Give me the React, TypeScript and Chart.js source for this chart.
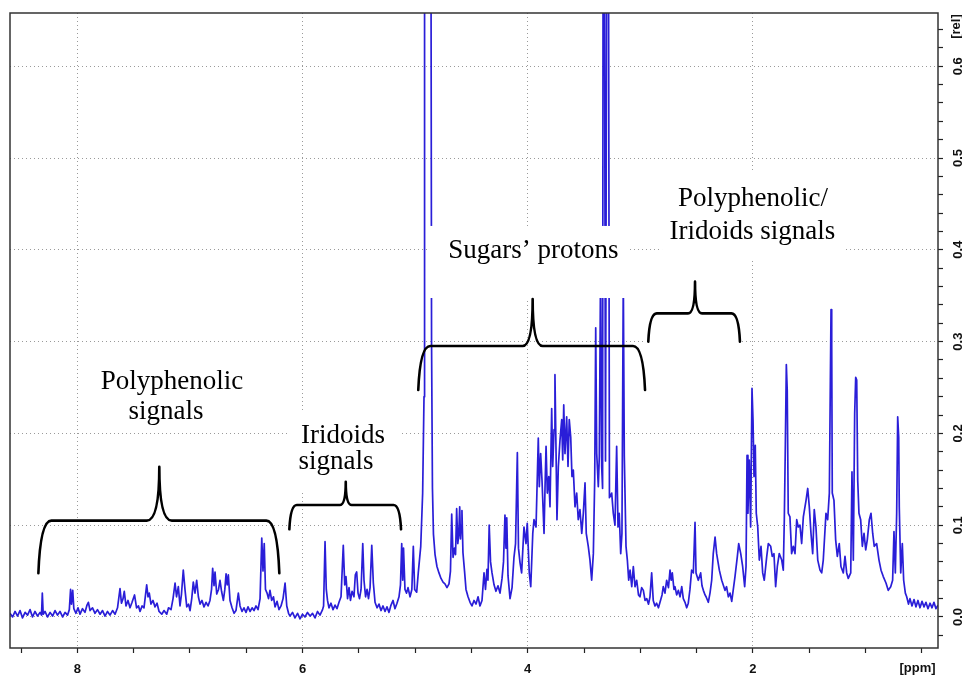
import React, { useEffect, useRef } from 'react';
import { Chart, registerables } from 'chart.js';

Chart.register(...registerables);

// 1H NMR spectrum, [chemical shift (ppm), relative intensity]
const polyphenolicRegion: [number, number][] = [
  [8.598, 0.004], [8.575, 0.000], [8.553, 0.006], [8.531, 0.001], [8.509, 0.007], [8.487, -0.001], [8.464, 0.005], [8.442, 0.002],
  [8.420, 0.008], [8.398, 0.000], [8.376, 0.006], [8.353, 0.001], [8.331, 0.005], [8.318, 0.002], [8.311, 0.026], [8.303, 0.003],
  [8.287, 0.006], [8.265, 0.000], [8.242, 0.005], [8.220, 0.001], [8.198, 0.007], [8.176, 0.002], [8.154, 0.006], [8.131, 0.000],
  [8.109, 0.005], [8.087, 0.002], [8.071, 0.008], [8.060, 0.030], [8.052, 0.014], [8.041, 0.029], [8.031, 0.009], [8.012, 0.004],
  [7.994, 0.010], [7.976, 0.003], [7.954, 0.009], [7.932, 0.005], [7.914, 0.013], [7.902, 0.016], [7.887, 0.007], [7.865, 0.010],
  [7.843, 0.004], [7.821, 0.008], [7.798, 0.003], [7.776, 0.007], [7.754, 0.001], [7.732, 0.006], [7.710, 0.002], [7.687, 0.007],
  [7.665, 0.003], [7.643, 0.010], [7.621, 0.031], [7.608, 0.015], [7.594, 0.020], [7.583, 0.028], [7.568, 0.012], [7.550, 0.018],
  [7.532, 0.010], [7.514, 0.016], [7.492, 0.024], [7.474, 0.010], [7.457, 0.012], [7.443, 0.006], [7.425, 0.012], [7.408, 0.010],
  [7.384, 0.035], [7.372, 0.022], [7.361, 0.026], [7.346, 0.014], [7.328, 0.018], [7.310, 0.011], [7.292, 0.015], [7.274, 0.006],
  [7.250, 0.003], [7.230, 0.007], [7.206, 0.003], [7.190, 0.010], [7.168, 0.008], [7.150, 0.020], [7.132, 0.037], [7.119, 0.022],
  [7.103, 0.033], [7.088, 0.012], [7.075, 0.025], [7.059, 0.051], [7.044, 0.030], [7.028, 0.011], [7.012, 0.014], [6.999, 0.007],
  [6.984, 0.020], [6.970, 0.038], [6.955, 0.026], [6.940, 0.040], [6.925, 0.022], [6.910, 0.014], [6.893, 0.018], [6.875, 0.011],
  [6.857, 0.016], [6.839, 0.012], [6.822, 0.018], [6.808, 0.030], [6.798, 0.053], [6.786, 0.034], [6.777, 0.049], [6.762, 0.025],
  [6.746, 0.030], [6.733, 0.040], [6.719, 0.028], [6.703, 0.018], [6.690, 0.030], [6.679, 0.047], [6.669, 0.035], [6.659, 0.046],
  [6.644, 0.018], [6.626, 0.010], [6.608, 0.004], [6.591, 0.007], [6.570, 0.026], [6.555, 0.012], [6.537, 0.006], [6.520, 0.010],
  [6.502, 0.005], [6.484, 0.011], [6.466, 0.006], [6.448, 0.010], [6.431, 0.007], [6.413, 0.012], [6.395, 0.008], [6.377, 0.020],
  [6.362, 0.086], [6.351, 0.050], [6.340, 0.080], [6.329, 0.030], [6.315, 0.026], [6.302, 0.020], [6.289, 0.029], [6.274, 0.018],
  [6.258, 0.022], [6.244, 0.011], [6.226, 0.017], [6.209, 0.008], [6.191, 0.012], [6.173, 0.020], [6.155, 0.037], [6.140, 0.012],
  [6.124, 0.004],
];

const iridoidRegion: [number, number][] = [
  [6.111, 0.001], [6.089, 0.005], [6.067, -0.001], [6.044, 0.004], [6.022, -0.002], [6.000, 0.003], [5.978, 0.000], [5.956, 0.005],
  [5.933, 0.001], [5.911, 0.004], [5.889, -0.001], [5.867, 0.006], [5.845, 0.002], [5.822, 0.008], [5.813, 0.012], [5.800, 0.082],
  [5.789, 0.030], [5.778, 0.018], [5.765, 0.010], [5.747, 0.015], [5.729, 0.008], [5.711, 0.013], [5.694, 0.009], [5.676, 0.016],
  [5.658, 0.022], [5.638, 0.078], [5.625, 0.035], [5.614, 0.044], [5.600, 0.020], [5.587, 0.032], [5.574, 0.018], [5.560, 0.028],
  [5.543, 0.022], [5.531, 0.046], [5.519, 0.049], [5.507, 0.026], [5.494, 0.020], [5.480, 0.030], [5.465, 0.080], [5.454, 0.040],
  [5.440, 0.022], [5.427, 0.030], [5.414, 0.020], [5.400, 0.032], [5.385, 0.078], [5.371, 0.037], [5.356, 0.016], [5.338, 0.010],
  [5.321, 0.014], [5.303, 0.007], [5.285, 0.012], [5.267, 0.006], [5.250, 0.011], [5.232, 0.005], [5.214, 0.013], [5.196, 0.018],
  [5.179, 0.009], [5.161, 0.015], [5.143, 0.022], [5.130, 0.035], [5.119, 0.080], [5.110, 0.040], [5.103, 0.075], [5.090, 0.030],
  [5.076, 0.026], [5.063, 0.032], [5.045, 0.022], [5.029, 0.030], [5.016, 0.077], [5.004, 0.030], [4.986, 0.027], [4.972, 0.048],
  [4.950, 0.077], [4.933, 0.135], [4.921, 0.240], [4.916, 0.900], [4.890, 1.300], [4.861, 0.900], [4.854, 0.300], [4.846, 0.140],
  [4.837, 0.090], [4.823, 0.068], [4.806, 0.055], [4.788, 0.048], [4.770, 0.042], [4.752, 0.038], [4.735, 0.036], [4.717, 0.032],
];

const sugarRegion: [number, number][] = [
  [4.699, 0.036], [4.686, 0.050], [4.675, 0.112], [4.663, 0.065], [4.650, 0.075], [4.641, 0.068], [4.631, 0.118], [4.621, 0.080],
  [4.612, 0.090], [4.604, 0.120], [4.597, 0.085], [4.591, 0.100], [4.584, 0.116], [4.575, 0.070], [4.561, 0.050], [4.548, 0.030],
  [4.530, 0.022], [4.512, 0.016], [4.495, 0.012], [4.477, 0.018], [4.459, 0.014], [4.441, 0.022], [4.424, 0.012], [4.406, 0.018],
  [4.388, 0.048], [4.375, 0.030], [4.362, 0.052], [4.353, 0.040], [4.342, 0.100], [4.330, 0.060], [4.317, 0.048], [4.299, 0.035],
  [4.282, 0.028], [4.264, 0.034], [4.246, 0.026], [4.228, 0.042], [4.215, 0.060], [4.202, 0.111], [4.193, 0.075], [4.186, 0.108],
  [4.175, 0.045], [4.157, 0.020], [4.139, 0.032], [4.122, 0.065], [4.108, 0.080], [4.092, 0.179], [4.082, 0.075], [4.068, 0.059],
  [4.054, 0.048], [4.033, 0.098], [4.015, 0.080], [4.004, 0.102], [3.986, 0.048], [3.973, 0.033], [3.955, 0.091], [3.944, 0.106],
  [3.926, 0.098], [3.906, 0.195], [3.897, 0.142], [3.885, 0.178], [3.873, 0.149], [3.855, 0.091], [3.846, 0.142], [3.837, 0.186],
  [3.826, 0.135], [3.813, 0.153], [3.802, 0.120], [3.787, 0.227], [3.778, 0.164], [3.766, 0.204], [3.758, 0.264], [3.749, 0.186],
  [3.740, 0.106], [3.728, 0.164], [3.713, 0.193], [3.698, 0.215], [3.689, 0.171], [3.680, 0.231], [3.669, 0.178], [3.654, 0.218],
  [3.642, 0.164], [3.631, 0.215], [3.618, 0.196], [3.607, 0.153], [3.595, 0.160], [3.580, 0.120], [3.565, 0.135], [3.551, 0.106],
  [3.536, 0.117], [3.520, 0.091], [3.506, 0.113], [3.491, 0.146], [3.480, 0.091], [3.462, 0.077], [3.447, 0.062], [3.432, 0.040],
  [3.417, 0.069], [3.405, 0.149], [3.396, 0.315], [3.387, 0.178], [3.373, 0.142], [3.364, 0.175], [3.353, 0.380], [3.343, 0.164],
  [3.335, 0.140], [3.327, 1.200], [3.309, 0.170], [3.289, 1.200], [3.274, 0.130], [3.254, 0.135], [3.240, 0.113], [3.225, 0.100],
  [3.210, 0.186], [3.198, 0.098], [3.187, 0.113], [3.174, 0.069], [3.163, 0.091], [3.151, 0.370], [3.142, 0.175], [3.127, 0.077],
  [3.115, 0.062], [3.103, 0.040], [3.091, 0.051], [3.076, 0.033], [3.062, 0.055], [3.047, 0.033], [3.032, 0.040], [3.016, 0.024],
];

const aliphaticRegion: [number, number][] = [
  [3.003, 0.022], [2.988, 0.032], [2.973, 0.029], [2.958, 0.018], [2.943, 0.020], [2.927, 0.014], [2.914, 0.022], [2.899, 0.048],
  [2.885, 0.018], [2.870, 0.012], [2.855, 0.015], [2.839, 0.010], [2.825, 0.016], [2.807, 0.024], [2.796, 0.033], [2.781, 0.026],
  [2.766, 0.040], [2.750, 0.032], [2.736, 0.051], [2.726, 0.040], [2.716, 0.048], [2.701, 0.030], [2.692, 0.033], [2.677, 0.024],
  [2.662, 0.029], [2.647, 0.022], [2.632, 0.033], [2.618, 0.020], [2.603, 0.016], [2.588, 0.010], [2.574, 0.015], [2.559, 0.030],
  [2.544, 0.051], [2.529, 0.048], [2.514, 0.103], [2.505, 0.048], [2.485, 0.040], [2.464, 0.048], [2.452, 0.034], [2.440, 0.029],
  [2.425, 0.024], [2.416, 0.022], [2.396, 0.016], [2.381, 0.026], [2.366, 0.040], [2.352, 0.069], [2.336, 0.087], [2.322, 0.069],
  [2.310, 0.060], [2.298, 0.051], [2.277, 0.040], [2.261, 0.034], [2.248, 0.029], [2.234, 0.033], [2.218, 0.022], [2.203, 0.026],
  [2.188, 0.017], [2.174, 0.030], [2.159, 0.044], [2.138, 0.066], [2.126, 0.080], [2.108, 0.069], [2.091, 0.055], [2.073, 0.033],
  [2.061, 0.055], [2.052, 0.176], [2.044, 0.113], [2.032, 0.171], [2.020, 0.098], [2.008, 0.249], [1.999, 0.215], [1.990, 0.153],
  [1.979, 0.187], [1.970, 0.113], [1.957, 0.098], [1.943, 0.062], [1.928, 0.077], [1.913, 0.048], [1.899, 0.040], [1.877, 0.066],
  [1.863, 0.080], [1.842, 0.077], [1.828, 0.066], [1.813, 0.069], [1.798, 0.033], [1.783, 0.055], [1.766, 0.069], [1.744, 0.062],
  [1.730, 0.051], [1.721, 0.106], [1.712, 0.186], [1.703, 0.275], [1.695, 0.247], [1.686, 0.113], [1.671, 0.109], [1.656, 0.069],
  [1.641, 0.077], [1.626, 0.069], [1.611, 0.106], [1.597, 0.098], [1.582, 0.100], [1.567, 0.080], [1.552, 0.109], [1.528, 0.127],
  [1.513, 0.140], [1.499, 0.120], [1.484, 0.091], [1.469, 0.069], [1.455, 0.117], [1.440, 0.098], [1.424, 0.062], [1.404, 0.051],
  [1.389, 0.048], [1.375, 0.062], [1.351, 0.113], [1.336, 0.106], [1.321, 0.135], [1.312, 0.258], [1.306, 0.335], [1.300, 0.298],
  [1.295, 0.135], [1.280, 0.127], [1.265, 0.084], [1.250, 0.066], [1.233, 0.080], [1.218, 0.055], [1.197, 0.048], [1.182, 0.066],
  [1.167, 0.048], [1.153, 0.042], [1.131, 0.048], [1.120, 0.158], [1.108, 0.062], [1.096, 0.222], [1.087, 0.261], [1.078, 0.258],
  [1.069, 0.149], [1.058, 0.113], [1.043, 0.106], [1.028, 0.077], [1.013, 0.091], [0.998, 0.073], [0.984, 0.084], [0.966, 0.106],
  [0.951, 0.113], [0.936, 0.091], [0.922, 0.077], [0.901, 0.080], [0.880, 0.062], [0.862, 0.051], [0.842, 0.044], [0.818, 0.037],
  [0.798, 0.029], [0.776, 0.033], [0.759, 0.040], [0.747, 0.093], [0.735, 0.048], [0.723, 0.113], [0.714, 0.218], [0.705, 0.196],
  [0.700, 0.120], [0.687, 0.048], [0.673, 0.080], [0.661, 0.040], [0.646, 0.026], [0.634, 0.022], [0.618, 0.014], [0.605, 0.020],
  [0.587, 0.012], [0.569, 0.019], [0.552, 0.011], [0.534, 0.018], [0.516, 0.010], [0.498, 0.017], [0.480, 0.011], [0.463, 0.016],
  [0.445, 0.009], [0.427, 0.015], [0.409, 0.010], [0.392, 0.016], [0.374, 0.009], [0.356, 0.013],
];

const xTickLabels = [8, 6, 4, 2];
const yTickLabels = [0.0, 0.1, 0.2, 0.3, 0.4, 0.5, 0.6];
const xUnit = '[ppm]';
const yUnit = '[rel]';

// annotations (in ppm / intensity units)
const labelBoxes = [
  { from: 7.887, to: 6.422, top: 0.280, bottom: 0.206 },
  { from: 6.111, to: 5.134, top: 0.2255, bottom: 0.1362 },
  { from: 4.885, to: 3.109, top: 0.426, bottom: 0.3475 },
  { from: 2.807, to: 1.182, top: 0.4847, bottom: 0.391 },
  { from: 2.958, to: 2.115, top: 0.3693, bottom: 0.2963 },
];

const braces = [
  { from: 8.346, to: 6.206, tip: 7.272, endLevel: 0.0476, barLevel: 0.105, tipLevel: 0.1637, endCurve: 13, tipCurve: 12.5 },
  { from: 6.117, to: 5.125, tip: 5.616, endLevel: 0.0955, barLevel: 0.122, tipLevel: 0.1474, endCurve: 7.5, tipCurve: 6 },
  { from: 4.972, to: 2.958, tip: 3.956, endLevel: 0.2473, barLevel: 0.2952, tipLevel: 0.3464, endCurve: 12, tipCurve: 10 },
  { from: 2.929, to: 2.115, tip: 2.514, endLevel: 0.300, barLevel: 0.3308, tipLevel: 0.3653, endCurve: 8.5, tipCurve: 7 },
];

const regionLabels = [
  { text: 'Polyphenolic', ppm: 7.159, level: 0.2484 },
  { text: 'signals', ppm: 7.212, level: 0.2157 },
  { text: 'Iridoids', ppm: 5.640, level: 0.1895 },
  { text: 'signals', ppm: 5.702, level: 0.1612 },
  { text: 'Sugars\u2019 protons', ppm: 3.950, level: 0.3911 },
  { text: 'Polyphenolic/', ppm: 1.999, level: 0.4477 },
  { text: 'Iridoids signals', ppm: 2.004, level: 0.4118 },
];

const LINE_COLOR = '#2a1ed8';
const GRID_COLOR = '#9a9a9a';
const FRAME_COLOR = '#333333';

const isMultiple = (v: number, step: number) => Math.abs(v / step - Math.round(v / step)) < 1e-6;

const annotationPlugin = {
  id: 'nmrAnnotations',
  afterDatasetsDraw(chart: any) {
    const { ctx } = chart;
    const xs = chart.scales.x;
    const ys = chart.scales.y;
    ctx.save();
    ctx.fillStyle = '#ffffff';
    for (const b of labelBoxes) {
      const x1 = xs.getPixelForValue(b.from);
      const x2 = xs.getPixelForValue(b.to);
      const y1 = ys.getPixelForValue(b.top);
      const y2 = ys.getPixelForValue(b.bottom);
      ctx.fillRect(Math.min(x1, x2), Math.min(y1, y2), Math.abs(x2 - x1), Math.abs(y2 - y1));
    }
    ctx.strokeStyle = '#000000';
    ctx.lineWidth = 2.6;
    ctx.lineCap = 'round';
    ctx.lineJoin = 'round';
    for (const br of braces) {
      const xl = xs.getPixelForValue(br.from);
      const xr = xs.getPixelForValue(br.to);
      const xt = xs.getPixelForValue(br.tip);
      const yEnd = ys.getPixelForValue(br.endLevel);
      const yBar = ys.getPixelForValue(br.barLevel);
      const yTip = ys.getPixelForValue(br.tipLevel);
      const r = br.endCurve;
      const t = br.tipCurve;
      ctx.beginPath();
      ctx.moveTo(xl, yEnd);
      ctx.quadraticCurveTo(xl + r * 0.15, yBar, xl + r, yBar);
      ctx.lineTo(xt - t, yBar);
      ctx.quadraticCurveTo(xt, yBar, xt, yTip);
      ctx.quadraticCurveTo(xt, yBar, xt + t, yBar);
      ctx.lineTo(xr - r, yBar);
      ctx.quadraticCurveTo(xr - r * 0.15, yBar, xr, yEnd);
      ctx.stroke();
    }
    ctx.fillStyle = '#000000';
    ctx.font = '27px "Liberation Serif", "Times New Roman", serif';
    ctx.textAlign = 'center';
    ctx.textBaseline = 'alphabetic';
    for (const l of regionLabels) {
      ctx.fillText(l.text, xs.getPixelForValue(l.ppm), ys.getPixelForValue(l.level));
    }
    ctx.restore();
  },
  afterDraw(chart: any) {
    const { ctx, chartArea } = chart;
    const xs = chart.scales.x;
    const ys = chart.scales.y;
    ctx.save();
    ctx.strokeStyle = FRAME_COLOR;
    ctx.lineWidth = 1.5;
    ctx.strokeRect(chartArea.left, chartArea.top, chartArea.right - chartArea.left, chartArea.bottom - chartArea.top);
    ctx.fillStyle = '#111111';
    ctx.font = 'bold 13px "Liberation Sans", Arial, sans-serif';
    ctx.textAlign = 'center';
    ctx.textBaseline = 'alphabetic';
    for (const v of xTickLabels) {
      ctx.fillText(String(v), xs.getPixelForValue(v), chartArea.bottom + 24.5);
    }
    ctx.fillText(xUnit, chartArea.right - 20.5, chartArea.bottom + 24);
    for (const v of yTickLabels) {
      ctx.save();
      ctx.translate(chartArea.right + 24, ys.getPixelForValue(v));
      ctx.rotate(-Math.PI / 2);
      ctx.fillText(v.toFixed(1), 0, 0);
      ctx.restore();
    }
    ctx.save();
    ctx.translate(chartArea.right + 22, chartArea.top + 13.5);
    ctx.rotate(-Math.PI / 2);
    ctx.fillText(yUnit, 0, 0);
    ctx.restore();
    ctx.restore();
  },
};

export default function App() {
  const canvasRef = useRef<HTMLCanvasElement>(null);

  useEffect(() => {
    const canvas = canvasRef.current;
    if (!canvas) return;
    const spectrum = [...polyphenolicRegion, ...iridoidRegion, ...sugarRegion, ...aliphaticRegion].map(([x, y]) => ({ x, y }));
    const chart = new Chart(canvas, {
      type: 'line',
      data: {
        datasets: [
          {
            data: spectrum,
            borderColor: LINE_COLOR,
            borderWidth: 1.7,
            borderJoinStyle: 'round',
            pointRadius: 0,
            tension: 0,
            fill: false,
          } as any,
        ],
      },
      options: {
        responsive: false,
        animation: false,
        devicePixelRatio: 1,
        events: [],
        layout: { padding: { left: 10, top: 13, right: 19, bottom: 23 } },
        plugins: { legend: { display: false }, tooltip: { enabled: false } },
        scales: {
          x: {
            type: 'linear',
            reverse: true,
            min: 0.356,
            max: 8.598,
            ticks: { display: false, stepSize: 0.5, includeBounds: false } as any,
            grid: {
              color: (c: any) => (c.tick && isMultiple(c.tick.value, 2) ? GRID_COLOR : 'rgba(0,0,0,0)'),
              lineWidth: 1,
              tickColor: '#222222',
              tickLength: 5,
              tickWidth: 1.2,
            },
            border: { display: false, dash: [1, 3] },
          },
          y: {
            type: 'linear',
            position: 'right',
            min: -0.0338,
            max: 0.658,
            ticks: { display: false, stepSize: 0.02, includeBounds: false } as any,
            grid: {
              color: (c: any) => (c.tick && isMultiple(c.tick.value, 0.1) ? GRID_COLOR : 'rgba(0,0,0,0)'),
              lineWidth: 1,
              tickColor: '#222222',
              tickLength: 5,
              tickWidth: 1.2,
            },
            border: { display: false, dash: [1, 3] },
          },
        },
      },
      plugins: [annotationPlugin],
    });
    return () => chart.destroy();
  }, []);

  return (
    <div style={{ position: 'absolute', left: 0, top: 0, width: 962, height: 676, background: '#ffffff' }}>
      <canvas ref={canvasRef} width={962} height={676} style={{ display: 'block' }} />
    </div>
  );
}
